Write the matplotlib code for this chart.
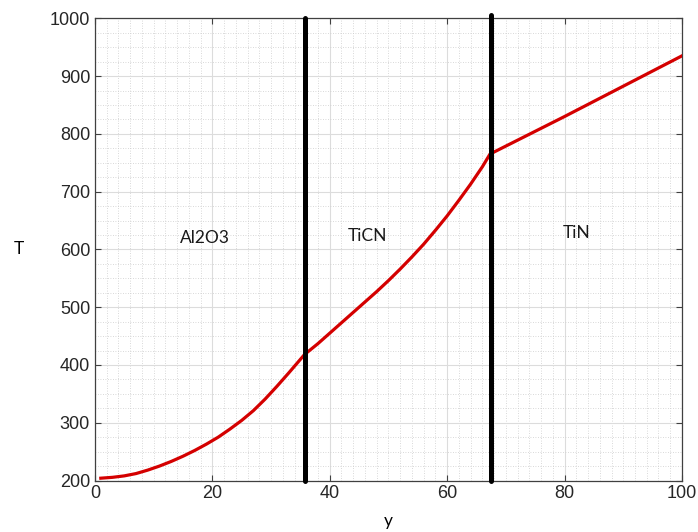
import matplotlib
matplotlib.use('Agg')
import matplotlib.pyplot as plt
from matplotlib.ticker import MultipleLocator

# temperature profile across the coating layers
y_pos = [1, 3, 5, 7, 9, 11, 13, 15, 17, 19, 21, 23, 25, 27, 29, 31, 33,
         35.7, 38, 40, 42, 44, 46, 48, 50, 52, 54, 56, 58, 60, 62, 64, 66,
         67.3, 80, 100]
T_vals = [204, 205.5, 208, 212, 218, 225, 233, 242, 252, 263, 275, 289, 304,
          321, 341, 363, 386, 418, 437, 455, 473, 491, 509, 527, 546, 566,
          587, 609, 633, 658, 685, 713, 743, 765, 830, 935]

boundaries = [35.8, 67.4]
boundary_tops = [1000, 1006]
layer_names = ['Al2O3', 'TiCN', 'TiN']
layer_x = [18.7, 46.5, 82.1]
layer_T = [620, 623, 628]

AXIS = '#404040'
TICK = '#262626'

plt.rcParams['font.family'] = ['Liberation Sans', 'DejaVu Sans']

fig = plt.figure(figsize=(6.98, 5.32), dpi=100, facecolor='white')
ax = fig.add_axes([0.136, 0.0968, 0.841, 0.8688])

ax.set_xlim(0, 100)
ax.set_ylim(200, 1000)
ax.xaxis.set_major_locator(MultipleLocator(20))
ax.yaxis.set_major_locator(MultipleLocator(100))
ax.xaxis.set_minor_locator(MultipleLocator(2))
ax.yaxis.set_minor_locator(MultipleLocator(25))

ax.grid(True, which='major', color='#dcdcdc', linewidth=0.8)
ax.grid(True, which='minor', color='#cccccc', linewidth=0.6, linestyle=(0, (1, 2)))
ax.set_axisbelow(True)

ax.plot(y_pos, T_vals, color='#d40000', linewidth=2.3, zorder=3,
        solid_joinstyle='round')

for xb, top in zip(boundaries, boundary_tops):
    ax.plot([xb, xb], [200, top], color='black', linewidth=3.6,
            solid_capstyle='round', clip_on=False, zorder=4)

for name, xt, Tt in zip(layer_names, layer_x, layer_T):
    ax.text(xt, Tt, name, ha='center', va='center', fontsize=12.5,
            family=['Lato', 'DejaVu Sans'], color='#1a1a1a')

ax.tick_params(which='major', direction='in', length=4, width=0.8,
               top=True, right=True, colors=AXIS, labelcolor=TICK, labelsize=13)
ax.tick_params(which='minor', length=0)
for s in ax.spines.values():
    s.set_color(AXIS)
    s.set_linewidth(0.9)

ax.set_ylabel('T', rotation=0, fontsize=12.5, family=['Lato', 'DejaVu Sans'],
              labelpad=22, va='center')
ax.set_xlabel('y', fontsize=12.5, family=['Lato', 'DejaVu Sans'], labelpad=8)

fig.savefig('out.png', dpi=100, facecolor='white')
